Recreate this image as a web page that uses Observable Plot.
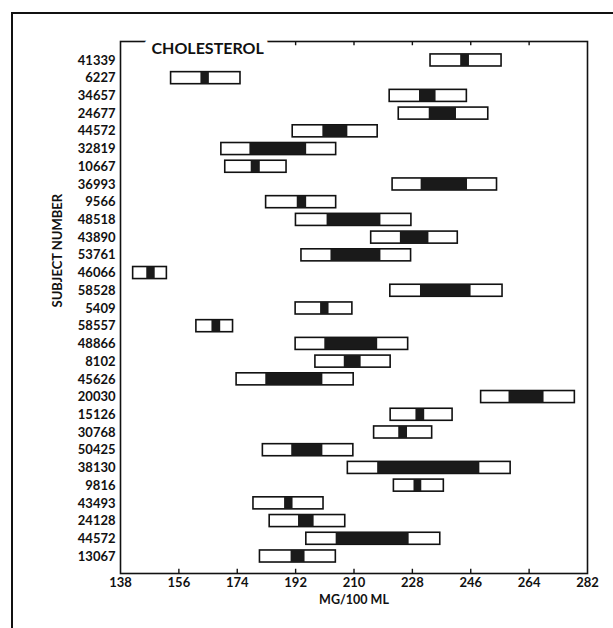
<!DOCTYPE html>
<html>
<head>
<meta charset="utf-8">
<script src="https://cdn.jsdelivr.net/npm/d3@7"></script>
<script src="https://cdn.jsdelivr.net/npm/@observablehq/plot@0.6"></script>
<style>
  html, body { margin: 0; padding: 0; background: white; overflow: hidden; }
  #wrap { position: relative; width: 613px; height: 628px; }
  #chart { position: absolute; left: 0; top: 0; }
  #border { position: absolute; left: 11px; top: 12px; width: 700px; height: 700px;
            border-top: 2.5px solid #111; border-left: 2.5px solid #111; pointer-events: none; }
</style>
</head>
<body>
<div id="wrap"><div id="chart"></div><div id="border"></div></div>
<script>
const subjects = ["41339","6227","34657","24677","44572","32819","10667","36993","9566","48518",
  "43890","53761","46066","58528","5409","58557","48866","8102","45626","20030",
  "15126","30768","50425","38130","9816","43493","24128","44572","13067"];
const rangeLow  = [233.6,153.6,221.0,223.8,191.1,169.1,170.3,221.9,182.9,192.1,
  215.3,193.8,141.9,221.2,192.0,161.4,192.0,198.1,173.8,249.2,
  221.3,216.2,181.9,208.1,222.3,179.0,184.0,195.3,181.0];
const boxLow    = [242.9,162.8,230.2,233.2,200.4,177.9,178.3,230.7,192.5,201.7,
  224.3,202.9,146.1,230.5,199.7,166.2,201.0,207.0,182.8,257.8,
  229.1,223.8,190.8,217.3,228.5,188.6,192.9,204.5,190.6];
const boxHigh   = [245.6,165.4,235.3,241.6,208.1,195.4,181.1,245.0,195.4,218.3,
  233.1,218.3,148.7,246.1,202.3,168.9,217.3,212.2,200.4,268.6,
  231.8,226.5,200.4,248.8,230.9,191.2,197.7,227.0,194.9];
const rangeHigh = [255.5,175.0,244.8,251.4,217.3,204.5,189.2,254.1,204.5,227.7,
  242.0,227.6,152.3,255.8,209.5,172.7,226.7,221.3,209.9,278.1,
  240.4,234.1,209.8,258.3,237.7,200.6,207.3,236.6,204.4];
const xTicks = [138,156,174,192,210,228,246,264,282];

const rows = subjects.map((s, i) => ({
  i, s, lo: rangeLow[i], blo: boxLow[i], bhi: boxHigh[i], hi: rangeHigh[i]
}));

const yTop = -1.07, yBottom = 28.96, half = 0.34, tickLen = 0.24;

const chart = Plot.plot({
  width: 613,
  height: 628,
  marginLeft: 120,
  marginRight: 26,
  marginTop: 41,
  marginBottom: 55,
  style: { background: "white", fontFamily: "Lato, 'DejaVu Sans', sans-serif", fontSize: "13px", fontWeight: "bold", color: "#111" },
  x: { domain: [138, 282] },
  y: { domain: [yTop, yBottom], reverse: true },
  marks: [
    Plot.rect(rows, { x1: "lo", x2: "hi", y1: d => d.i - half, y2: d => d.i + half,
      fill: "white", stroke: "#111", strokeWidth: 1.6 }),
    Plot.rect(rows, { x1: "blo", x2: "bhi", y1: d => d.i - half, y2: d => d.i + half,
      fill: "#1a1a1a" }),
    Plot.frame({ stroke: "#111", strokeWidth: 1.6 }),
    Plot.ruleX(xTicks.slice(1, -1), { x: d => d, y1: yBottom, y2: yBottom - tickLen, stroke: "#111", strokeWidth: 1.4 }),
    Plot.ruleX(xTicks.filter(t => t >= 192 && t < 282), { x: d => d, y1: yTop, y2: yTop + tickLen, stroke: "#111", strokeWidth: 1.4 }),
    Plot.axisX({ ticks: xTicks, tickSize: 0, tickPadding: 4, label: null }),
    Plot.axisY({ ticks: d3.range(subjects.length), tickFormat: i => subjects[i], tickSize: 0, tickPadding: 5, label: null }),
    Plot.text(["CHOLESTEROL"], { frameAnchor: "top-left", dx: 31, dy: 7, textAnchor: "start", lineAnchor: "middle",
      fontSize: 16, fontWeight: "bold", fill: "#111", stroke: "white", strokeWidth: 17 }),
    Plot.text(["SUBJECT NUMBER"], { frameAnchor: "left", dx: -63, rotate: -90, fontSize: 13, fontWeight: "bold", fill: "#111" }),
    Plot.text(["MG/100 ML"], { frameAnchor: "bottom", dy: 22, lineAnchor: "top", fontSize: 12.5, fontWeight: "bold", fill: "#111" })
  ]
});
document.getElementById("chart").appendChild(chart);
</script>
</body>
</html>
